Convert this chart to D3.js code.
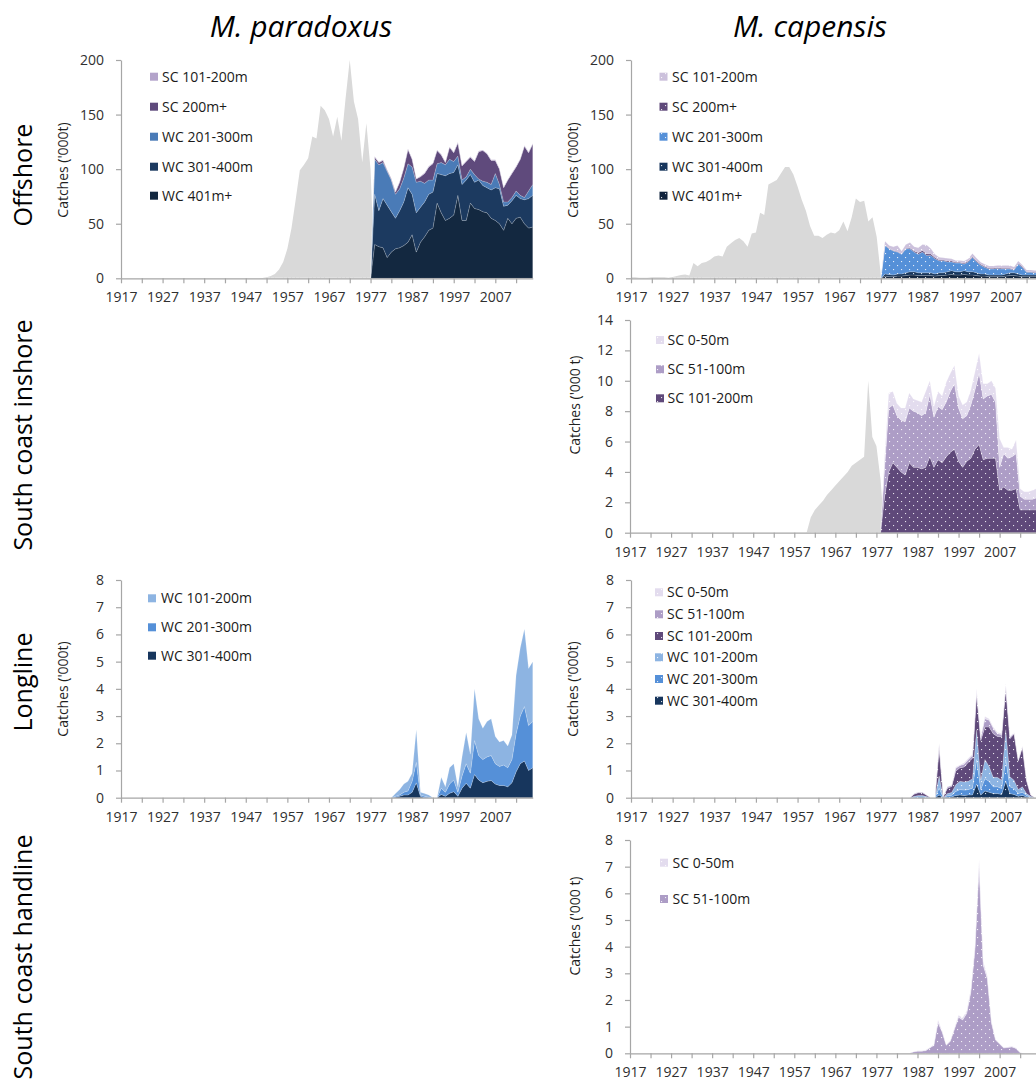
<!DOCTYPE html>
<html>
<head>
<meta charset="utf-8">
<script src="https://cdn.jsdelivr.net/npm/d3@7"></script>
<style>
  body { margin: 0; background: #fff; }
  svg text { font-family: "Open Sans", "Noto Sans", sans-serif; }
</style>
</head>
<body>
<svg id="fig" width="1036" height="1082"></svg>
<script>
// ---------- categories and tick labels ----------
const FIRST_YEAR = 1917;
const LAST_YEAR = 2016;
const xTickYears = [1917,1922,1927,1932,1937,1942,1947,1952,1957,1962,1967,1972,1977,1982,1987,1992,1997,2002,2007,2012];
const xLabelYears = [1917,1927,1937,1947,1957,1967,1977,1987,1997,2007];
const offshoreTicks = [0,50,100,150,200];
const inshoreTicks = [0,2,4,6,8,10,12,14];
const smallTicks = [0,1,2,3,4,5,6,7,8];

// ---------- M. paradoxus, offshore trawl ('000 t) ----------
const parOffHistStart = 1951;   // total catch before depth split
const parOffHist = [0.3,1,2,4,8,15,27,46,72,99,104,110,130,128,158,154,146,130,148,126,165,200,162,146,106,142,100];
const parOffStart = 1978;
const parOffWC401 = [31,29,28,19,24,27,28,30,33,40, 24,33,38,44,46,69,60,53,55,58, 76,53,53,69,64,63,61,60,55,53, 50,44,55,50,55,56,50,46,47];
const parOffWC301 = [46,33,45,48,37,28,34,40,50,37, 36,32,32,33,33,27,35,41,41,39, 28,33,37,26,24,27,24,23,26,30, 32,22,12,21,21,17,22,27,29];
const parOffWC201 = [32,42,33,31,29,22,20,22,22,25, 28,24,17,13,11,9,11,10,13,10, 8,4,3,5,7,1,4,5,5,13, 4,4,3,3,4,3,2,7,10];
const parOffSC200 = [2,2,2,1,1,2,6,9,13,7, 3,4,9,12,15,12,7,2,11,8, 12,13,14,11,12,25,28,26,22,12, 14,13,20,22,22,33,47,35,37];
const parOffSC101 = [0.6,0.6,0.6,0.5,0.5,0.5,0.6,0.6,0.6,0.6, 0.5,0.5,0.6,0.6,0.6,0.6,0.6,0.5,0.6,0.6, 0.6,0.5,0.5,0.6,0.6,0.6,0.6,0.6,0.6,0.6, 0.5,0.5,0.5,0.6,0.6,0.6,0.6,0.6,0.6];

// ---------- M. capensis, offshore trawl ('000 t) ----------
const capOffHistStart = 1917;
const capOffHist = [1.0,1.0,0.6,0.5,0.6,1.0,1.2,1.0,0.9,0.6, 1.2,2.0,3.0,3.5,2.5, 14,11,14,15,17,20,21,20,29,32,
  35,37,34,29,41,42,60,58,86,88, 90,96,102,102,95,84,72,62,48,39, 39,37,40,42,41,44,52,43,56,73, 70,71,52,56,38,3];
const capOffStart = 1978;
const capOffWC401 = [2,1.5,1.5,2,2,2.5,3,3,2.5,2.5, 2.5,2.5,2,2.5,2.5,3,3.5,3,3,3.5, 3,3,2.5,2,2,1.5,1.5,1.5,1.5,2, 2.5,2.5,2,1.5,1.5,1.5,1.5,1.5,1.5];
const capOffWC301 = [2,2,1.5,2,2,2.5,3,3,2.5,2.5, 2.5,2.5,2,2.5,2.5,3,3.5,3,3,3.5, 3,3,2.5,2,2,1.5,1.5,1.5,1.5,2, 2.5,2.5,2,1.5,1.5,1.5,1.5,1.5,1.5];
const capOffWC201 = [26,23.5,22,20,18,22,21,18,17,19, 16,16,14,11,11,9,8,8,8,6, 9,13,10,8,6,5.5,5.5,6,5.5,4.5, 3.5,2.5,9,7,2.5,2.5,2,2,2];
const capOffSC200 = [0.5,0.5,0.5,0.5,0.5,0.5,0.8,1,1.5,1.5, 1.5,1.2,1,0.8,0.8,0.8,0.8,0.8,0.8,0.8, 0.8,0.8,0.8,0.8,0.8,0.8,0.8,0.8,0.8,0.8, 0.8,0.8,0.8,0.8,0.6,0.6,0.6,0.6,0.6];
const capOffSC101 = [3.5,2.5,3.5,5.5,2.5,3.5,5,4,4.5,5.5, 8,5,3,2.5,2,2.5,2,1.5,1.5,2, 2,3,2.5,2,2,2,2,2,2.5,2.5, 2.5,2,2,1.5,1.5,1.5,1.5,1.5,1.5];

// ---------- M. capensis, south coast inshore trawl ('000 t) ----------
const capInHistStart = 1960;
const capInHist = [0,1.0,1.5,1.8,2.1,2.5,2.8,3.1,3.4,3.7,4.0,4.4,4.6,4.8,5.0,10,6.3,5.7,3.5];
const capInStart = 1978;
const capInSC101 = [0,2.4,4.0,4.6,4.3,4.0,3.8,4.6,4.3,4.3, 4.2,4.3,5.0,4.3,4.8,4.6,5.0,5.3,5.5,4.7, 4.3,4.7,4.9,5.5,5.8,4.8,4.9,4.9,4.9,2.8, 3.0,2.8,2.8,2.9,1.5,1.5,1.5,1.5,1.5];
const capInSC51 = [0,1.9,4.2,3.8,3.4,3.4,3.5,3.6,3.7,3.6, 3.5,3.6,4.1,3.3,3.5,3.5,3.6,4.0,4.3,3.5, 3.2,3.0,3.5,3.9,4.7,4.0,4.1,4.2,3.7,1.5, 2.2,2.1,2.2,2.3,0.9,0.7,0.7,0.7,0.8];
const capInSC0 = [0,0.7,1.0,0.9,0.8,0.8,0.9,1.0,0.8,0.8, 0.9,1.4,0.9,0.7,1.0,0.9,1.3,1.2,1.2,0.8, 0.9,0.9,1.0,1.2,1.3,1.0,0.8,0.9,0.9,1.9, 0.4,0.7,0.5,0.9,0.5,0.5,0.5,0.6,0.6];

// ---------- M. paradoxus, longline ('000 t) ----------
const parLlStart = 1982;
const parLlWC301 = [0,0.02,0.05,0.1,0.1,0.2,0.55,0.05,0,0, 0,0,0.12,0.05,0.16,0.22,0.05,0.35,0.53,0.35, 0.85,0.65,0.55,0.6,0.63,0.5,0.45,0.45,0.4,0.55, 0.95,1.25,1.35,1.0,1.1];
const parLlWC201 = [0,0.03,0.05,0.1,0.15,0.4,0.75,0.05,0.05,0.02, 0,0,0.23,0.15,0.34,0.43,0.15,0.45,0.72,0.55, 1.25,0.9,0.85,0.9,0.92,0.75,0.7,0.75,0.7,0.85, 1.4,1.75,2.0,1.65,1.7];
const parLlWC101 = [0,0.1,0.2,0.3,0.35,0.3,1.2,0.1,0.1,0.08, 0,0,0.4,0.2,0.6,0.6,0.2,0.7,1.15,0.7, 1.9,1.35,1.15,1.3,1.35,1.0,0.9,0.9,0.8,0.9, 2.15,2.5,2.85,2.1,2.2];

// ---------- M. capensis, longline ('000 t) ----------
const capLlStart = 1984;
const capLlWC301 = [0,0,0,0,0,0,0,0.1,0,0.02, 0.03,0.08,0.1,0.08,0.1,0.1,0.5,0.1,0.25,0.2, 0.15,0.15,0.12,0.6,0.15,0.12,0.05,0.08,0.03,0.01, 0,0,0];
const capLlWC201 = [0,0.02,0.03,0.03,0.01,0,0,0.25,0,0.05, 0.06,0.15,0.2,0.2,0.2,0.25,0.9,0.2,0.45,0.4, 0.25,0.25,0.22,0.8,0.25,0.22,0.1,0.12,0.05,0.01, 0,0,0];
const capLlWC101 = [0,0.03,0.05,0.05,0.03,0,0,0.45,0,0.08, 0.1,0.25,0.3,0.3,0.3,0.35,1.1,0.35,0.7,0.55, 0.35,0.35,0.3,1.1,0.37,0.3,0.15,0.2,0.07,0.03, 0,0,0];
const capLlSC101 = [0,0.08,0.1,0.1,0.05,0,0,1.0,0.04,0.2, 0.22,0.5,0.5,0.55,0.7,0.75,1.3,1.45,1.2,1.45, 1.6,1.5,1.6,1.5,1.4,1.7,1.05,1.45,0.47,0.05, 0,0,0];
const capLlSC51 = [0,0.02,0.02,0.02,0.01,0,0,0.15,0,0.05, 0.04,0.1,0.08,0.1,0.1,0.1,0.1,0.1,0.3,0.25, 0.2,0.1,0.08,0.1,0.05,0.04,0.03,0.03,0.02,0, 0,0,0];
const capLlSC0 = [0,0,0,0,0,0,0,0.05,0,0, 0,0.05,0.02,0.05,0.05,0.05,0.1,0.05,0.08,0.05, 0.05,0.05,0.05,0.1,0.03,0.02,0.02,0.02,0.01,0, 0,0,0];

// ---------- M. capensis, south coast handline ('000 t) ----------
const capHlStart = 1985;
const capHlSC51 = [0,0.05,0.08,0.08,0.1,0.2,0.3,1.15,0.8,0.3, 0.45,0.9,1.35,1.25,1.5,2.3,3.9,7.0,3.3,2.8, 1.15,0.5,0.35,0.2,0.22,0.24,0.18,0.02,0,0, 0,0];
const capHlSC0 = [0,0.01,0.02,0.02,0.02,0.02,0.03,0.1,0.05,0.02, 0.03,0.05,0.08,0.08,0.1,0.12,0.15,0.25,0.15,0.1, 0.05,0.03,0.02,0.02,0.02,0.02,0.02,0,0,0, 0,0];

// ---------- helpers ----------
const years = d3.range(FIRST_YEAR, LAST_YEAR + 1);
function fullSeries(start, vals) {
  return years.map(y => (y >= start && y < start + vals.length) ? vals[y - start] : 0);
}

const svg = d3.select("#fig");
svg.append("rect").attr("width", 1036).attr("height", 1082).attr("fill", "#fff");
const defs = svg.append("defs");

const C = {
  grey: "#d9d9d9",
  wc401: "#132840", wc301: "#1c3a60", wc201steel: "#4a7bb7",
  sc200: "#5f4a7c", sc101light: "#b3a3ca",
  wc201: "#5590d8", wc101: "#8db4e2", wc301b: "#17365d",
  sc101: "#5f497a", sc101pale: "#ccc1dc", sc51: "#ad9dc6", sc0: "#e3dcee"
};

let patCount = 0;
function dotted(color) {
  const id = "dots" + (patCount++);
  const p = defs.append("pattern").attr("id", id)
    .attr("patternUnits", "userSpaceOnUse").attr("width", 8).attr("height", 8);
  p.append("rect").attr("width", 8).attr("height", 8).attr("fill", color);
  p.append("rect").attr("x", 1).attr("y", 1).attr("width", 1.1).attr("height", 1.1).attr("fill", "#fff").attr("opacity", 0.85);
  p.append("rect").attr("x", 5).attr("y", 5).attr("width", 1.1).attr("height", 1.1).attr("fill", "#fff").attr("opacity", 0.85);
  return `url(#${id})`;
}

function drawPanel(cfg) {
  const g = svg.append("g");
  const x = d3.scaleLinear().domain([FIRST_YEAR, LAST_YEAR]).range([cfg.x0, cfg.x1]);
  const y = d3.scaleLinear().domain([0, cfg.yMax]).range([cfg.yBot, cfg.yTop]);

  // historic (undivided) catch drawn underneath
  if (cfg.hist) {
    const area = d3.area().x((d, i) => x(years[i])).y0(y(0)).y1(d => y(d));
    g.append("path").datum(cfg.hist).attr("d", area).attr("fill", C.grey);
  }

  // stacked depth / region layers, listed bottom to top
  const keys = cfg.layers.map(l => l.name);
  const rows = years.map((yr, i) => {
    const r = { year: yr };
    cfg.layers.forEach(l => { r[l.name] = l.values[i]; });
    return r;
  });
  const stacked = d3.stack().keys(keys)(rows);
  const area = d3.area().x(d => x(d.data.year)).y0(d => y(d[0])).y1(d => y(d[1]));
  stacked.forEach((s, i) => {
    const l = cfg.layers[i];
    const fill = cfg.dots ? dotted(l.color) : l.color;
    l.fill = fill;
    g.append("path").datum(s).attr("d", area).attr("fill", fill)
      .attr("stroke", "#ffffff").attr("stroke-opacity", 0.25).attr("stroke-width", 0.7);
  });

  // axes
  const xAxis = d3.axisBottom(x).tickValues(xTickYears).tickSize(5).tickSizeOuter(0).tickPadding(9)
    .tickFormat(d => xLabelYears.includes(d) ? String(d) : "");
  const gx = g.append("g").attr("transform", `translate(0,${cfg.yBot})`).call(xAxis);
  const yAxis = d3.axisLeft(y).tickValues(cfg.ticks).tickSize(5).tickSizeOuter(0).tickPadding(12);
  const gy = g.append("g").attr("transform", `translate(${cfg.x0},0)`).call(yAxis);
  [gx, gy].forEach(a => {
    a.select(".domain").attr("stroke", "#a6a6a6").attr("stroke-width", 1.2);
    a.selectAll(".tick line").attr("stroke", "#a6a6a6").attr("stroke-width", 1.2);
    a.selectAll(".tick text").attr("fill", "#303030").style("font-size", "14px")
      .style("font-family", '"Open Sans", sans-serif');
  });

  // y-axis title
  g.append("text").attr("transform", `translate(${cfg.ylabelX},${cfg.ylabelY}) rotate(-90)`)
    .attr("text-anchor", "middle").attr("dominant-baseline", "central")
    .style("font-size", "14px").attr("fill", "#1f1f1f").text(cfg.ylabel);

  // legend: top entry is the top layer of the stack
  const legendItems = cfg.layers.slice().reverse();
  legendItems.forEach((l, i) => {
    const cy = cfg.legendYs[i];
    g.append("rect").attr("x", cfg.swatchX).attr("y", cy - 4).attr("width", 8).attr("height", 8).attr("fill", l.fill);
    g.append("text").attr("x", cfg.textX).attr("y", cy + 5)
      .style("font-size", "14px").attr("fill", "#1a1a1a").text(l.name);
  });
}

// ---------- panels ----------
const pxYearLeft = 4.159, pxYearRightWide = 4.164, pxYearRightNarrow = 4.107;

drawPanel({
  x0: 121, x1: 121 + 99 * pxYearLeft, yTop: 60, yBot: 278.3, yMax: 200, ticks: offshoreTicks,
  hist: fullSeries(parOffHistStart, parOffHist), dots: false,
  layers: [
    { name: "WC 401m+", values: fullSeries(parOffStart, parOffWC401), color: C.wc401 },
    { name: "WC 301-400m", values: fullSeries(parOffStart, parOffWC301), color: C.wc301 },
    { name: "WC 201-300m", values: fullSeries(parOffStart, parOffWC201), color: C.wc201steel },
    { name: "SC 200m+", values: fullSeries(parOffStart, parOffSC200), color: C.sc200 },
    { name: "SC 101-200m", values: fullSeries(parOffStart, parOffSC101), color: C.sc101light }
  ],
  ylabel: "Catches ('000t)", ylabelX: 62.5, ylabelY: 170,
  swatchX: 150, textX: 162, legendYs: [76.7, 106.7, 136.7, 166.7, 195.7]
});

drawPanel({
  x0: 631, x1: 631 + 99 * pxYearRightWide, yTop: 60, yBot: 278.3, yMax: 200, ticks: offshoreTicks,
  hist: fullSeries(capOffHistStart, capOffHist), dots: true,
  layers: [
    { name: "WC 401m+", values: fullSeries(capOffStart, capOffWC401), color: "#10233d" },
    { name: "WC 301-400m", values: fullSeries(capOffStart, capOffWC301), color: C.wc301b },
    { name: "WC 201-300m", values: fullSeries(capOffStart, capOffWC201), color: C.wc201 },
    { name: "SC 200m+", values: fullSeries(capOffStart, capOffSC200), color: C.sc101 },
    { name: "SC 101-200m", values: fullSeries(capOffStart, capOffSC101), color: C.sc101pale }
  ],
  ylabel: "Catches ('000t)", ylabelX: 572.5, ylabelY: 170,
  swatchX: 659.5, textX: 672, legendYs: [76.7, 106.7, 136.7, 166.7, 195.7]
});

drawPanel({
  x0: 630, x1: 630 + 99 * pxYearRightNarrow, yTop: 320, yBot: 532.7, yMax: 14, ticks: inshoreTicks,
  hist: fullSeries(capInHistStart, capInHist), dots: true,
  layers: [
    { name: "SC 101-200m", values: fullSeries(capInStart, capInSC101), color: C.sc101 },
    { name: "SC 51-100m", values: fullSeries(capInStart, capInSC51), color: C.sc51 },
    { name: "SC 0-50m", values: fullSeries(capInStart, capInSC0), color: C.sc0 }
  ],
  ylabel: "Catches ('000 t)", ylabelX: 574, ylabelY: 405,
  swatchX: 656, textX: 667.5, legendYs: [340, 369.3, 398.3]
});

drawPanel({
  x0: 121, x1: 121 + 99 * pxYearLeft, yTop: 580, yBot: 797.7, yMax: 8, ticks: smallTicks,
  hist: null, dots: false,
  layers: [
    { name: "WC 301-400m", values: fullSeries(parLlStart, parLlWC301), color: C.wc301b },
    { name: "WC 201-300m", values: fullSeries(parLlStart, parLlWC201), color: C.wc201 },
    { name: "WC 101-200m", values: fullSeries(parLlStart, parLlWC101), color: C.wc101 }
  ],
  ylabel: "Catches ('000t)", ylabelX: 62.5, ylabelY: 689,
  swatchX: 148, textX: 161, legendYs: [598.3, 627.3, 655.7]
});

drawPanel({
  x0: 631, x1: 631 + 99 * pxYearRightWide, yTop: 580, yBot: 797.7, yMax: 8, ticks: smallTicks,
  hist: null, dots: true,
  layers: [
    { name: "WC 301-400m", values: fullSeries(capLlStart, capLlWC301), color: C.wc301b },
    { name: "WC 201-300m", values: fullSeries(capLlStart, capLlWC201), color: C.wc201 },
    { name: "WC 101-200m", values: fullSeries(capLlStart, capLlWC101), color: C.wc101 },
    { name: "SC 101-200m", values: fullSeries(capLlStart, capLlSC101), color: C.sc101 },
    { name: "SC 51-100m", values: fullSeries(capLlStart, capLlSC51), color: C.sc51 },
    { name: "SC 0-50m", values: fullSeries(capLlStart, capLlSC0), color: C.sc0 }
  ],
  ylabel: "Catches ('000t)", ylabelX: 572.5, ylabelY: 689,
  swatchX: 655, textX: 667, legendYs: [592.3, 614.3, 636, 657.3, 679, 700.7]
});

drawPanel({
  x0: 630, x1: 630 + 99 * pxYearRightNarrow, yTop: 840, yBot: 1053.3, yMax: 8, ticks: smallTicks,
  hist: null, dots: true,
  layers: [
    { name: "SC 51-100m", values: fullSeries(capHlStart, capHlSC51), color: C.sc51 },
    { name: "SC 0-50m", values: fullSeries(capHlStart, capHlSC0), color: C.sc0 }
  ],
  ylabel: "Catches ('000 t)", ylabelX: 574, ylabelY: 926,
  swatchX: 660, textX: 672.5, legendYs: [862.7, 899]
});

// ---------- column and row headings ----------
const colTitles = [
  { text: "M. paradoxus", x: 301 },
  { text: "M. capensis", x: 810 }
];
colTitles.forEach(t => {
  svg.append("text").attr("x", t.x).attr("y", 37).attr("text-anchor", "middle")
    .style("font-size", "30px").style("font-style", "italic").attr("fill", "#000").text(t.text);
});

const rowTitles = [
  { text: "Offshore", y: 175 },
  { text: "South coast inshore", y: 435 },
  { text: "Longline", y: 682 },
  { text: "South coast handline", y: 957 }
];
rowTitles.forEach(t => {
  svg.append("text").attr("transform", `translate(22,${t.y}) rotate(-90)`)
    .attr("text-anchor", "middle").attr("dominant-baseline", "central")
    .style("font-size", "25px").attr("fill", "#000").text(t.text);
});
</script>
</body>
</html>
